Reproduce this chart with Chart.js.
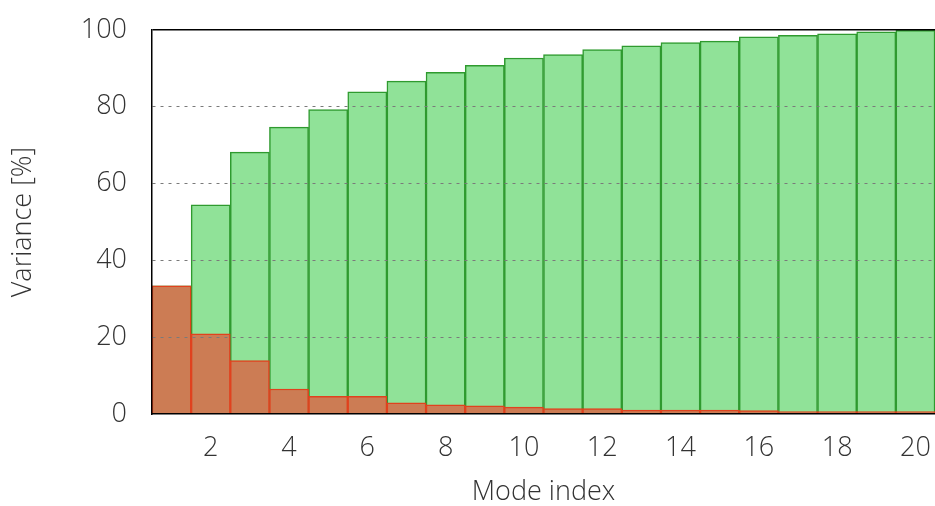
<!DOCTYPE html>
<html>
<head>
<meta charset="utf-8">
<script src="https://cdn.jsdelivr.net/npm/chart.js@4.4.1/dist/chart.umd.min.js"></script>
<style>
  html, body { margin: 0; padding: 0; background: #fff; overflow: hidden; }
  #wrap { width: 935px; height: 506px; }
</style>
</head>
<body>
<div id="wrap"><canvas id="varianceChart" width="935" height="506"></canvas></div>
<script>
// Datos
const modes = ['1', '2', '3', '4', '5', '6', '7', '8', '9', '10',
               '11', '12', '13', '14', '15', '16', '17', '18', '19', '20'];
const modeVariance = [33.4, 20.9, 13.9, 6.5, 4.6, 4.6, 2.9, 2.4, 2.1, 1.8,
                      1.4, 1.4, 1.0, 1.0, 1.0, 0.9, 0.6, 0.6, 0.6, 0.6];
const cumulativeVariance = [33.4, 54.5, 68.2, 74.7, 79.3, 83.9, 86.7, 89.0, 90.8, 92.7,
                            93.6, 94.9, 95.9, 96.7, 97.1, 98.2, 98.6, 99.0, 99.5, 99.9];
const yTicks = [0, 20, 40, 60, 80, 100];

const textColor = '#333333';
const fontFamily = "'Open Sans', 'DejaVu Sans', sans-serif";

const chartData = {
    labels: modes,
    datasets: [{
        label: 'Varianza por modo',
        data: modeVariance,
        backgroundColor: '#cc7c54',
        borderColor: '#e0421e',
        borderWidth: 1.5,
        order: 0
    }, {
        label: 'Varianza acumulada',
        data: cumulativeVariance,
        backgroundColor: '#90e298',
        borderColor: '#2f9a2f',
        borderWidth: 1.5,
        order: 1
    }]
};

const chartConfig = {
    type: 'bar',
    data: chartData,
    options: {
        responsive: false,
        animation: false,
        layout: { padding: { top: 30, right: 0, bottom: 0, left: 0 } },
        datasets: {
            bar: {
                grouped: false,
                categoryPercentage: 1,
                barPercentage: 1
            }
        },
        plugins: {
            legend: { display: false },
            tooltip: { enabled: false }
        },
        scales: {
            x: {
                z: 1,
                grid: { display: false, drawTicks: false },
                border: { display: true, color: '#000', width: 1.5, z: 2 },
                ticks: {
                    autoSkip: false,
                    maxRotation: 0,
                    padding: 18,
                    color: textColor,
                    font: { family: fontFamily, size: 27, weight: 300 },
                    callback: function (value, index) {
                        return (index + 1) % 2 === 0 ? modes[index] : '';
                    }
                },
                title: {
                    display: true,
                    text: 'Mode index',
                    color: textColor,
                    font: { family: fontFamily, size: 27, weight: 300, lineHeight: 1 },
                    padding: { top: 0, bottom: 0 }
                },
                afterFit: function (scale) {
                    scale.height = 92;
                    scale.paddingLeft = 0;
                    scale.paddingRight = 0;
                }
            },
            y: {
                z: 1,
                min: 0,
                max: 100,
                afterBuildTicks: function (scale) {
                    scale.ticks = yTicks.map(v => ({ value: v }));
                },
                grid: {
                    z: 1,
                    drawTicks: false,
                    lineWidth: ctx => (ctx.tick && ctx.tick.value === 100) ? 1.5 : 1,
                    color: ctx => {
                        if (!ctx.tick) return '#888';
                        if (ctx.tick.value === 100) return '#000';
                        if (ctx.tick.value === 0) return 'rgba(0,0,0,0)';
                        return '#7a7a7a';
                    }
                },
                border: {
                    display: true,
                    z: 2,
                    color: '#000',
                    width: 1.5,
                    dash: ctx => (ctx.tick && ctx.tick.value % 100 !== 0) ? [3, 5] : []
                },
                ticks: {
                    padding: 25,
                    color: textColor,
                    font: { family: fontFamily, size: 27, weight: 300 }
                },
                title: {
                    display: true,
                    text: 'Variance [%]',
                    color: textColor,
                    font: { family: fontFamily, size: 27, weight: 300, lineHeight: 1 },
                    padding: { top: 10, bottom: 0 }
                },
                afterFit: function (scale) {
                    scale.width = 152;
                    scale.paddingTop = 0;
                    scale.paddingBottom = 0;
                }
            }
        }
    }
};

const ctx = document.getElementById('varianceChart').getContext('2d');
new Chart(ctx, chartConfig);
</script>
</body>
</html>
